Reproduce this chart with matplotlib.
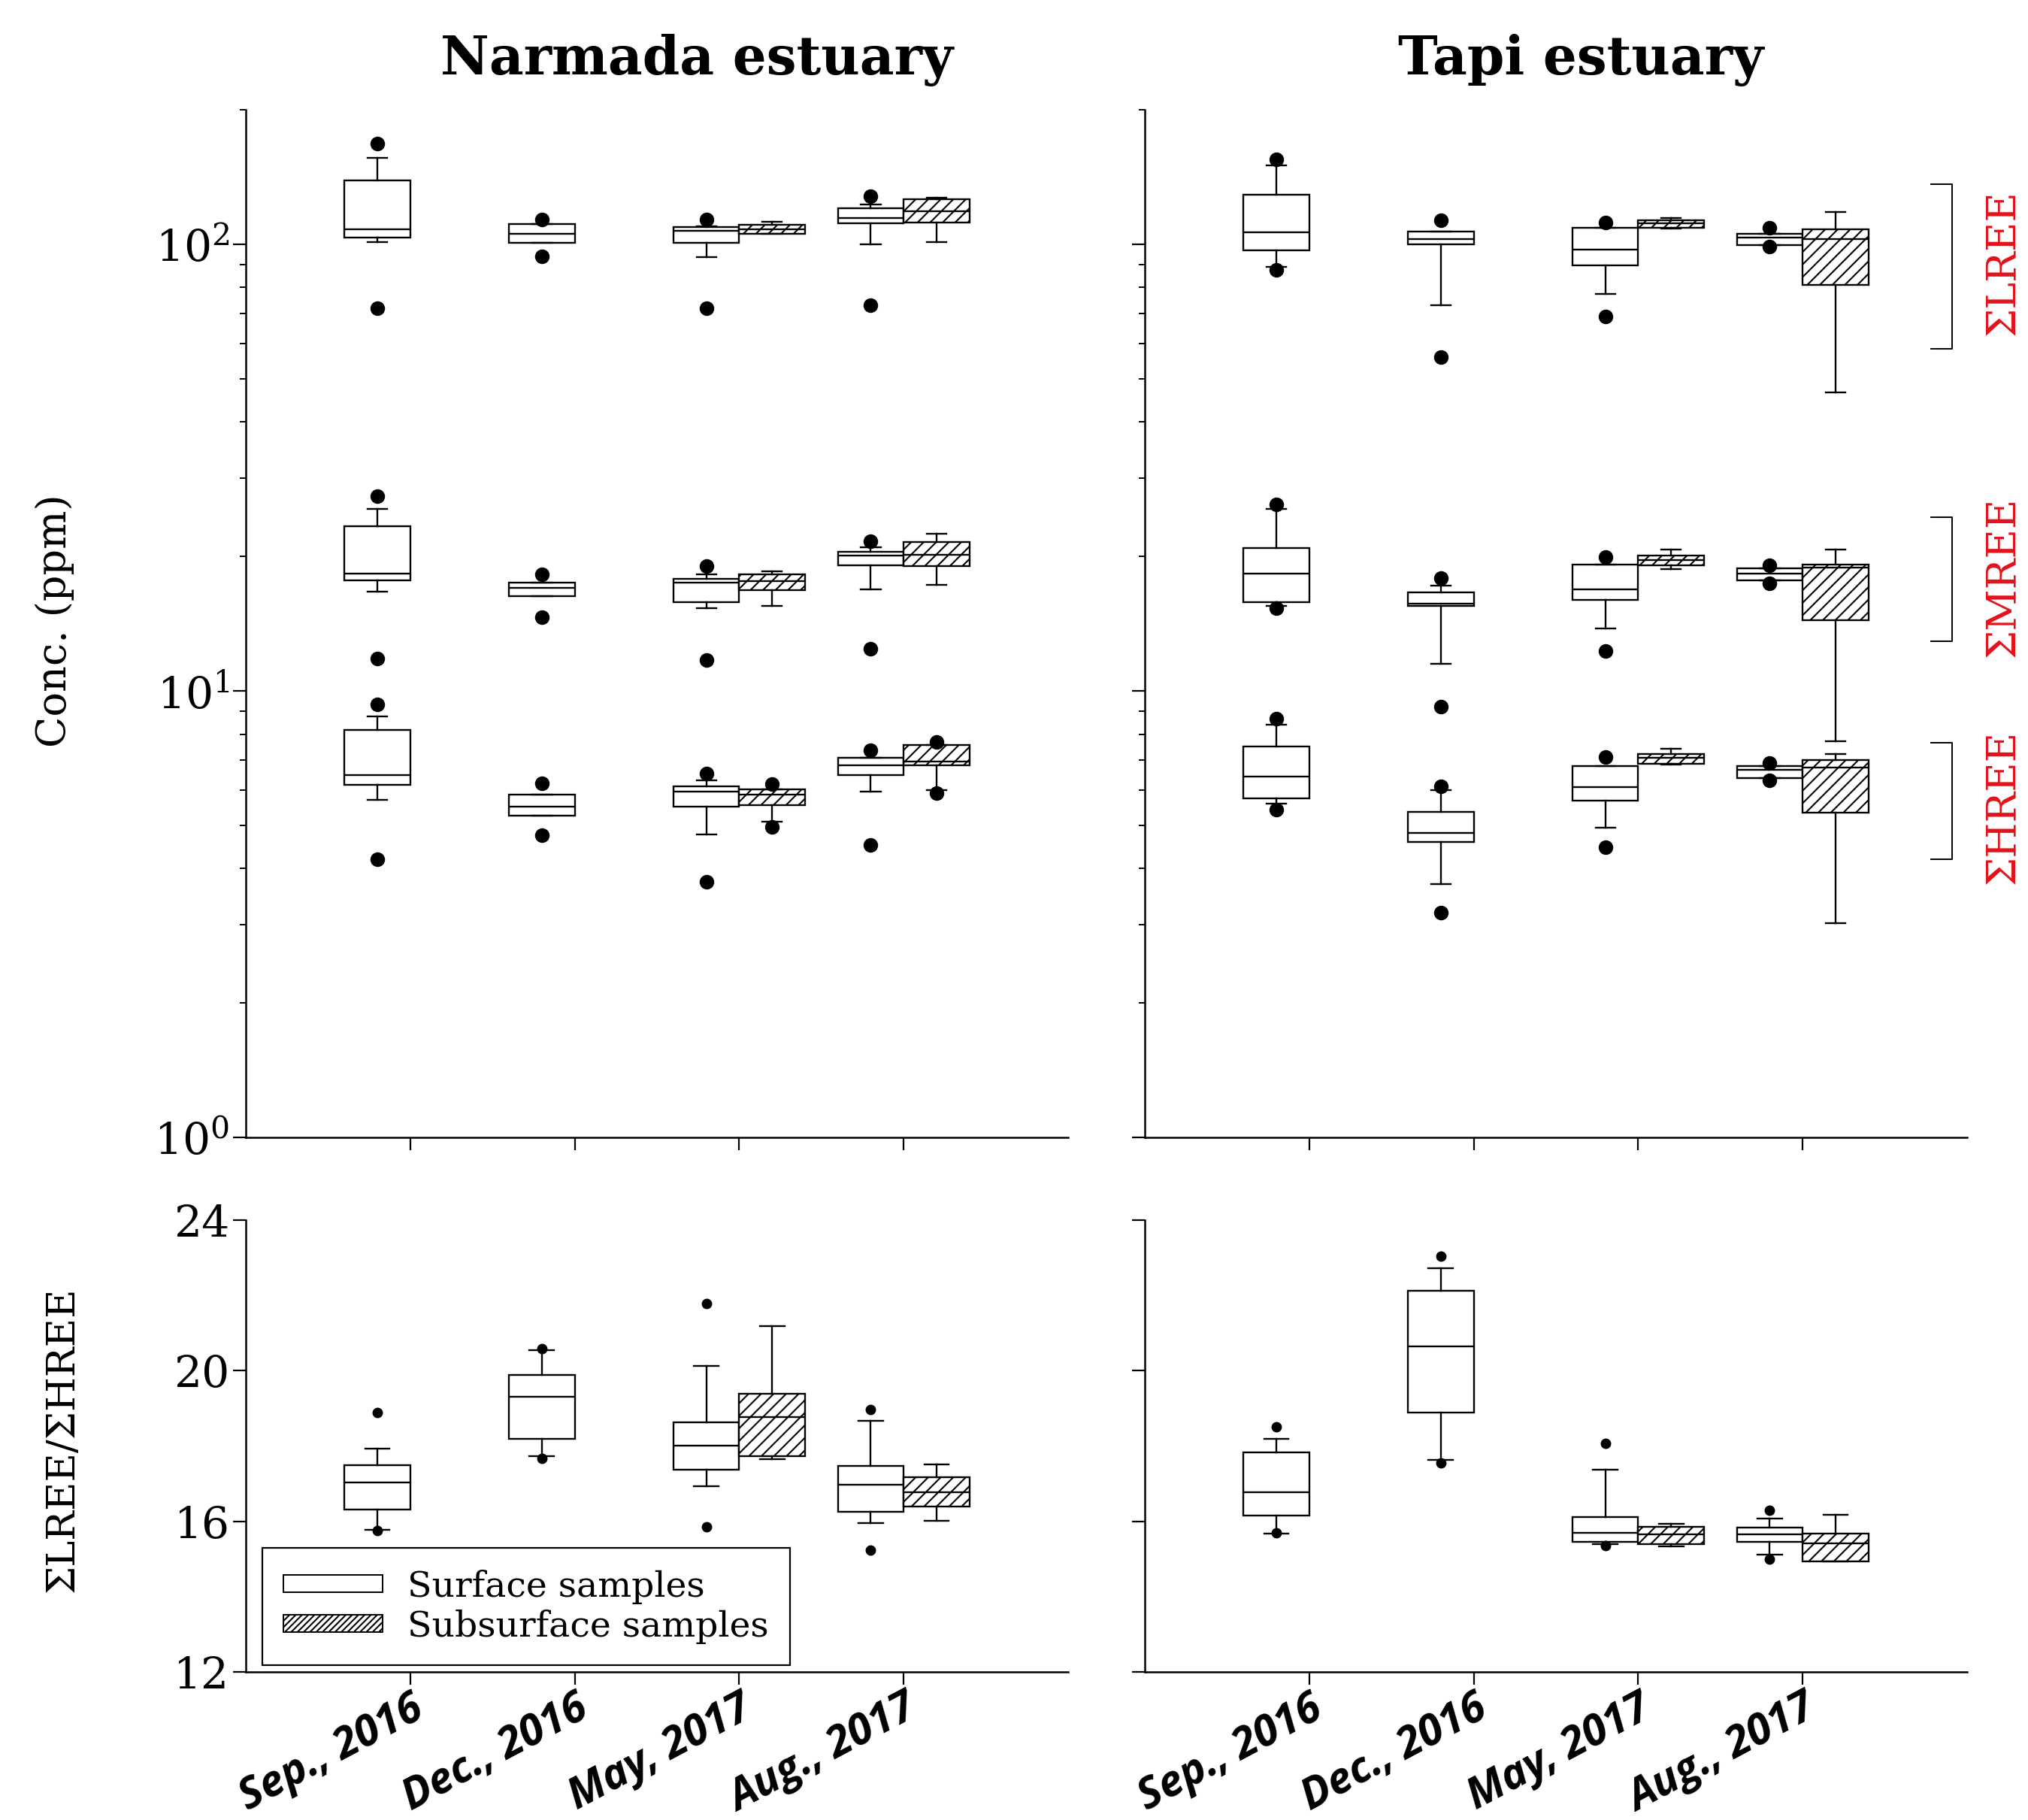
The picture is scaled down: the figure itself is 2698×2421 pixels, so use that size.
import numpy as np
import matplotlib
matplotlib.use('Agg')
import matplotlib.pyplot as plt
from matplotlib.patches import Patch
from matplotlib.ticker import NullFormatter

plt.rcParams['font.family'] = 'DejaVu Serif'
plt.rcParams['hatch.linewidth'] = 1.5
plt.rcParams['axes.linewidth'] = 1.8

dates = ['Sep., 2016', 'Dec., 2016', 'May, 2017', 'Aug., 2017']

# box rows: (whisker low, q1, median, q3, whisker high); None = no sample
# Narmada, surface / subsurface
nar_lree_surf = [(101, 103.5, 108, 139, 156), (100.8, 100.8, 105.5, 111, 111),
                 (93.7, 100.8, 107.2, 109.3, 109.7), (99.8, 111.4, 114.6, 120.4, 122.5)]
nar_lree_surf_out = [[168, 72], [113.5, 94], [113.5, 71.8], [128, 73.1]]
nar_lree_sub = [None, None, (105.5, 105.5, 108.2, 110.6, 112.4), (101, 112, 118.6, 125.9, 127.3)]
nar_lree_sub_out = [[], [], [], []]

nar_mree_surf = [(16.7, 17.7, 18.3, 23.4, 25.5), (16.3, 16.3, 17.0, 17.5, 17.5),
                 (15.3, 15.8, 17.5, 17.8, 18.2), (16.9, 19.1, 20.1, 20.5, 21.0)]
nar_mree_surf_out = [[27.3, 11.8], [18.2, 14.6], [19.0, 11.7], [21.6, 12.4]]
nar_mree_sub = [None, None, (15.5, 16.8, 17.6, 18.2, 18.5), (17.3, 19.0, 20.2, 21.5, 22.5)]
nar_mree_sub_out = [[], [], [], []]

nar_hree_surf = [(5.70, 6.15, 6.49, 8.18, 8.78), (5.26, 5.26, 5.50, 5.86, 5.86),
                 (4.77, 5.50, 5.95, 6.12, 6.31), (5.94, 6.49, 6.82, 7.08, 7.08)]
nar_hree_surf_out = [[9.33, 4.20], [6.22, 4.75], [6.52, 3.74], [7.35, 4.52]]
nar_hree_sub = [None, None, (5.1, 5.54, 5.86, 6.03, 6.03), (6.0, 6.81, 6.95, 7.55, 7.55)]
nar_hree_sub_out = [[], [], [6.18, 4.95], [7.69, 5.9]]

# Tapi, surface / subsurface
tap_lree_surf = [(89, 96.8, 106.5, 129, 150), (73.1, 100, 102.5, 106.7, 106.7),
                 (77.4, 89.5, 97.3, 108.8, 108.8), (99.5, 99.5, 103.6, 105.6, 105.6)]
tap_lree_surf_out = [[155, 87.5], [113.3, 55.8], [112, 69], [108.8, 98.7]]
tap_lree_sub = [None, None, (108.5, 109, 111.2, 113, 114.6), (46.6, 81.1, 102.5, 107.9, 118)]
tap_lree_sub_out = [[], [], [], []]

tap_mree_surf = [(15.5, 15.8, 18.3, 20.9, 25.5), (11.5, 15.5, 15.7, 16.6, 17.2),
                 (13.8, 16.0, 16.9, 19.2, 19.2), (17.7, 17.7, 18.3, 18.8, 18.8)]
tap_mree_surf_out = [[26.1, 15.3], [17.9, 9.2], [19.9, 12.3], [19.1, 17.4]]
tap_mree_sub = [None, None, (18.7, 19.1, 19.6, 20.1, 20.7), (7.7, 14.4, 18.9, 19.2, 20.7)]
tap_mree_sub_out = [[], [], [], []]

tap_hree_surf = [(5.6, 5.74, 6.44, 7.5, 8.4), (3.7, 4.59, 4.8, 5.36, 6.0),
                 (4.94, 5.68, 6.1, 6.78, 6.78), (6.38, 6.38, 6.66, 6.78, 6.78)]
tap_hree_surf_out = [[8.65, 5.43], [6.12, 3.19], [7.1, 4.46], [6.89, 6.3]]
tap_hree_sub = [None, None, (6.83, 6.87, 7.08, 7.22, 7.41), (3.02, 5.33, 6.74, 7.0, 7.23)]
tap_hree_sub_out = [[], [], [], []]

# LREE/HREE ratio
nar_ratio_surf = [(15.77, 16.31, 17.03, 17.5, 17.92), (17.73, 18.18, 19.31, 19.88, 20.55),
                  (16.93, 17.38, 18.0, 18.63, 20.12), (15.95, 16.26, 16.98, 17.48, 18.66)]
nar_ratio_surf_out = [[18.88, 15.75], [20.58, 17.67], [21.79, 15.85], [18.97, 15.23]]
nar_ratio_sub = [None, None, (17.65, 17.74, 18.76, 19.39, 21.18), (16.02, 16.39, 16.78, 17.17, 17.52)]
nar_ratio_sub_out = [[], [], [], []]

tap_ratio_surf = [(15.67, 16.16, 16.78, 17.83, 18.19), (17.64, 18.89, 20.64, 22.12, 22.73),
                  (15.40, 15.45, 15.70, 16.12, 17.37), (15.11, 15.45, 15.66, 15.83, 16.08)]
tap_ratio_surf_out = [[18.51, 15.69], [23.04, 17.55], [18.06, 15.36], [16.29, 15.0]]
tap_ratio_sub = [None, None, (15.34, 15.40, 15.66, 15.85, 15.93), (14.93, 14.94, 15.42, 15.67, 16.18)]
tap_ratio_sub_out = [[], [], [], []]

# bracket ranges (top, bottom) for the group labels on the right
groups = ['ΣLREE', 'ΣMREE', 'ΣHREE']
group_spans = [(136, 58.4), (24.5, 12.9), (7.66, 4.2)]
group_label_y = [91, 18.0, 5.5]

BW = 0.4
LW = 1.7


def to_stats(rows, outs):
    st, pos = [], []
    for i, (r, o) in enumerate(zip(rows, outs)):
        if r is None:
            continue
        st.append(dict(whislo=r[0], q1=r[1], med=r[2], q3=r[3], whishi=r[4], fliers=o))
        pos.append(i + 1)
    return st, np.array(pos, dtype=float)


def draw_boxes(ax, rows, outs, shift, hatch, capw, ms):
    st, pos = to_stats(rows, outs)
    ax.bxp(st, positions=pos + shift, widths=BW, patch_artist=True,
           manage_ticks=False, capwidths=capw,
           boxprops=dict(facecolor='white', edgecolor='black', linewidth=LW, hatch=hatch),
           medianprops=dict(color='black', linewidth=LW),
           whiskerprops=dict(color='black', linewidth=LW),
           capprops=dict(color='black', linewidth=LW),
           flierprops=dict(marker='o', markerfacecolor='black', markeredgecolor='black',
                           markersize=ms, linestyle='none'))


def style_axes(ax):
    for s in ['top', 'right']:
        ax.spines[s].set_visible(False)
    ax.tick_params(which='major', direction='out', length=12, width=1.6, labelsize=42)
    ax.tick_params(which='minor', direction='out', length=6, width=1.4)
    ax.set_xlim(0, 5)
    ax.set_xticks([1, 2, 3, 4])


fig = plt.figure(figsize=(26.98, 24.21), dpi=100)

W = 0.4055
ax_tl = fig.add_axes([0.1212, 0.3750, W, 0.5647])
ax_tr = fig.add_axes([0.5645, 0.3750, W, 0.5647])
ax_bl = fig.add_axes([0.1212, 0.0814, W, 0.2482])
ax_br = fig.add_axes([0.5645, 0.0814, W, 0.2482])

conc_sets = [
    (ax_tl, [(nar_lree_surf, nar_lree_surf_out, nar_lree_sub, nar_lree_sub_out),
             (nar_mree_surf, nar_mree_surf_out, nar_mree_sub, nar_mree_sub_out),
             (nar_hree_surf, nar_hree_surf_out, nar_hree_sub, nar_hree_sub_out)]),
    (ax_tr, [(tap_lree_surf, tap_lree_surf_out, tap_lree_sub, tap_lree_sub_out),
             (tap_mree_surf, tap_mree_surf_out, tap_mree_sub, tap_mree_sub_out),
             (tap_hree_surf, tap_hree_surf_out, tap_hree_sub, tap_hree_sub_out)]),
]

for ax, sets in conc_sets:
    ax.set_yscale('log')
    for surf, surf_o, sub, sub_o in sets:
        draw_boxes(ax, surf, surf_o, -BW / 2, None, 0.12, 13)
        draw_boxes(ax, sub, sub_o, BW / 2, '//', 0.12, 13)
    style_axes(ax)
    ax.set_ylim(1, 200)
    ax.yaxis.set_minor_formatter(NullFormatter())
    ax.set_xticklabels([])

ax_tr.set_yticklabels([])

ratio_sets = [(ax_bl, nar_ratio_surf, nar_ratio_surf_out, nar_ratio_sub, nar_ratio_sub_out),
              (ax_br, tap_ratio_surf, tap_ratio_surf_out, tap_ratio_sub, tap_ratio_sub_out)]

for ax, surf, surf_o, sub, sub_o in ratio_sets:
    draw_boxes(ax, surf, surf_o, -BW / 2, None, 0.15, 9)
    draw_boxes(ax, sub, sub_o, BW / 2, '//', 0.15, 9)
    style_axes(ax)
    ax.set_ylim(12, 24)
    ax.set_yticks([12, 16, 20, 24])
    ax.set_xticklabels(dates, rotation=28, ha='right', va='top', rotation_mode='anchor',
                       fontfamily='Open Sans', fontweight='bold', fontstyle='italic',
                       fontsize=41)
    ax.tick_params(axis='x', pad=2)

ax_br.set_yticklabels([])

# brackets and group names on the right of the Tapi panel
for name, (top, bot), ly in zip(groups, group_spans, group_label_y):
    ax_tr.plot([4.78, 4.91, 4.91, 4.78], [top, top, bot, bot], color='black',
               linewidth=1.4, clip_on=False)
    ax_tr.text(5.22, ly, name, color='#e3121b', rotation=90, ha='center', va='center',
               fontsize=39, clip_on=False)

# legend
handles = [Patch(facecolor='white', edgecolor='black', linewidth=1.4),
           Patch(facecolor='white', edgecolor='black', linewidth=1.4, hatch='////')]
leg = ax_bl.legend(handles, ['Surface samples', 'Subsurface samples'],
                   loc='lower left', bbox_to_anchor=(0.02, 0.015), borderaxespad=0,
                   fontsize=34, handlelength=2.8, handleheight=0.35, labelspacing=0.15,
                   handletextpad=0.7, borderpad=0.6, fancybox=False, framealpha=1)
leg.get_frame().set_edgecolor('black')
leg.get_frame().set_linewidth(1.6)

fig.text(0.3436, 0.967, 'Narmada estuary', ha='center', va='center',
         fontsize=51, fontweight='bold')
fig.text(0.7795, 0.967, 'Tapi estuary', ha='center', va='center',
         fontsize=51, fontweight='bold')

fig.text(0.027, 0.659, 'Conc. (ppm)', rotation=90, ha='center', va='center',
         fontsize=39)
fig.text(0.031, 0.209, 'ΣLREE/ΣHREE', rotation=90, ha='center', va='center',
         fontsize=38)

fig.savefig('out.png', dpi=100, facecolor='white')
